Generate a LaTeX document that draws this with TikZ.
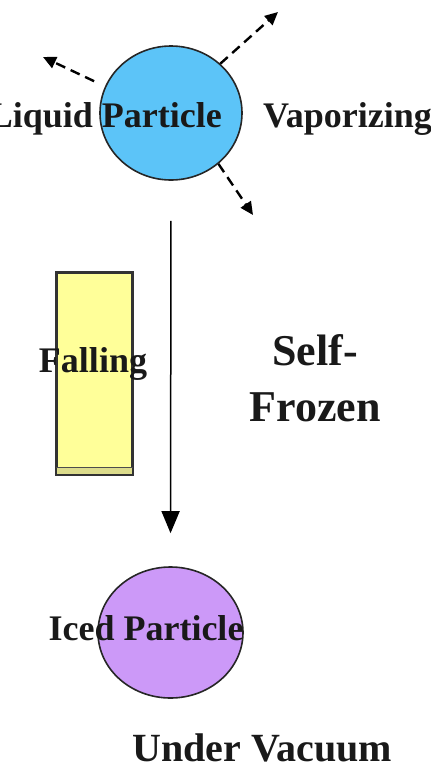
\documentclass[tikz,border=0pt]{standalone}
\usepackage{fontspec}
\setmainfont{Liberation Serif}
\usetikzlibrary{shapes.geometric, arrows, arrows.meta}
\definecolor{dropblue}{HTML}{5CC4F8}
\definecolor{icepurple}{HTML}{CC99F8}
\definecolor{tubeyellow}{HTML}{FFFF99}
\definecolor{tubeshade}{HTML}{DCDC8C}
\tikzstyle{drop} = [ellipse, draw=black!85, line width=1.6pt, inner sep=0pt]
\tikzstyle{word} = [font=\fontsize{36}{40}\selectfont\bfseries, inner sep=0pt, text=black!90]
\tikzstyle{bigword} = [font=\fontsize{44}{48}\selectfont\bfseries, inner sep=0pt, text=black!90]
\tikzstyle{vapour} = [dashed, dash pattern=on 10pt off 6pt, line width=2.4pt, -{Triangle[width=12pt,length=13pt]}]

\begin{document}
\begin{tikzpicture}[x=1pt, y=-1pt]
      \useasboundingbox (0,0) rectangle (431,769);
      % particle before the fall
      \node (liquid) [drop, fill=dropblue, minimum width=142pt, minimum height=134pt] at (171,113) {};
      \node (liquidtext) [word, anchor=base east] at (222,127) {Liquid Particle};
      \node (vaportext) [word, anchor=base west] at (263,127) {Vaporizing};
      \coordinate (ur) at (278,12);
      \coordinate (ul) at (43,57);
      \coordinate (lr) at (253,215);
      \draw [vapour] (liquid.45) -- (ur);
      \draw [vapour, shorten <=12pt] (liquid.158) -- (ul);
      \draw [vapour] (liquid.-47) -- (lr);
      % fall
      \node (tube) [rectangle, draw=black!80, line width=1.6pt, fill=tubeyellow, minimum width=75pt, minimum height=201pt] at (94.5,373.5) {};
      \fill [tubeshade] (tube.south west) rectangle ([yshift=7pt]tube.south east);
      \draw [black!80, line width=1.6pt] (tube.south west) rectangle (tube.north east);
      \draw [black!70, line width=1.2pt] ([yshift=7pt]tube.south west) -- ([yshift=7pt]tube.south east);
      \node (falltext) [word, anchor=base] at (93,372) {Falling};
      \node (selftext) [bigword, anchor=base] at (315,365) {Self-};
      \node (frozentext) [bigword, anchor=base] at (315,421) {Frozen};
      % particle after the fall
      \node (iced) [drop, fill=icepurple, minimum width=145pt, minimum height=131pt] at (170.5,632.5) {};
      \node (icedtext) [word, anchor=base] at (146,640) {Iced Particle};
      \node (vacuum) [word, font=\fontsize{40}{44}\selectfont\bfseries, anchor=base] at (262,761) {Under Vacuum};
      \draw [line width=1.5pt, -{Triangle[width=18pt,length=22pt]}, shorten <=40pt, shorten >=33pt] (liquid.south) -- (iced.north);
    \end{tikzpicture}
\end{document}
